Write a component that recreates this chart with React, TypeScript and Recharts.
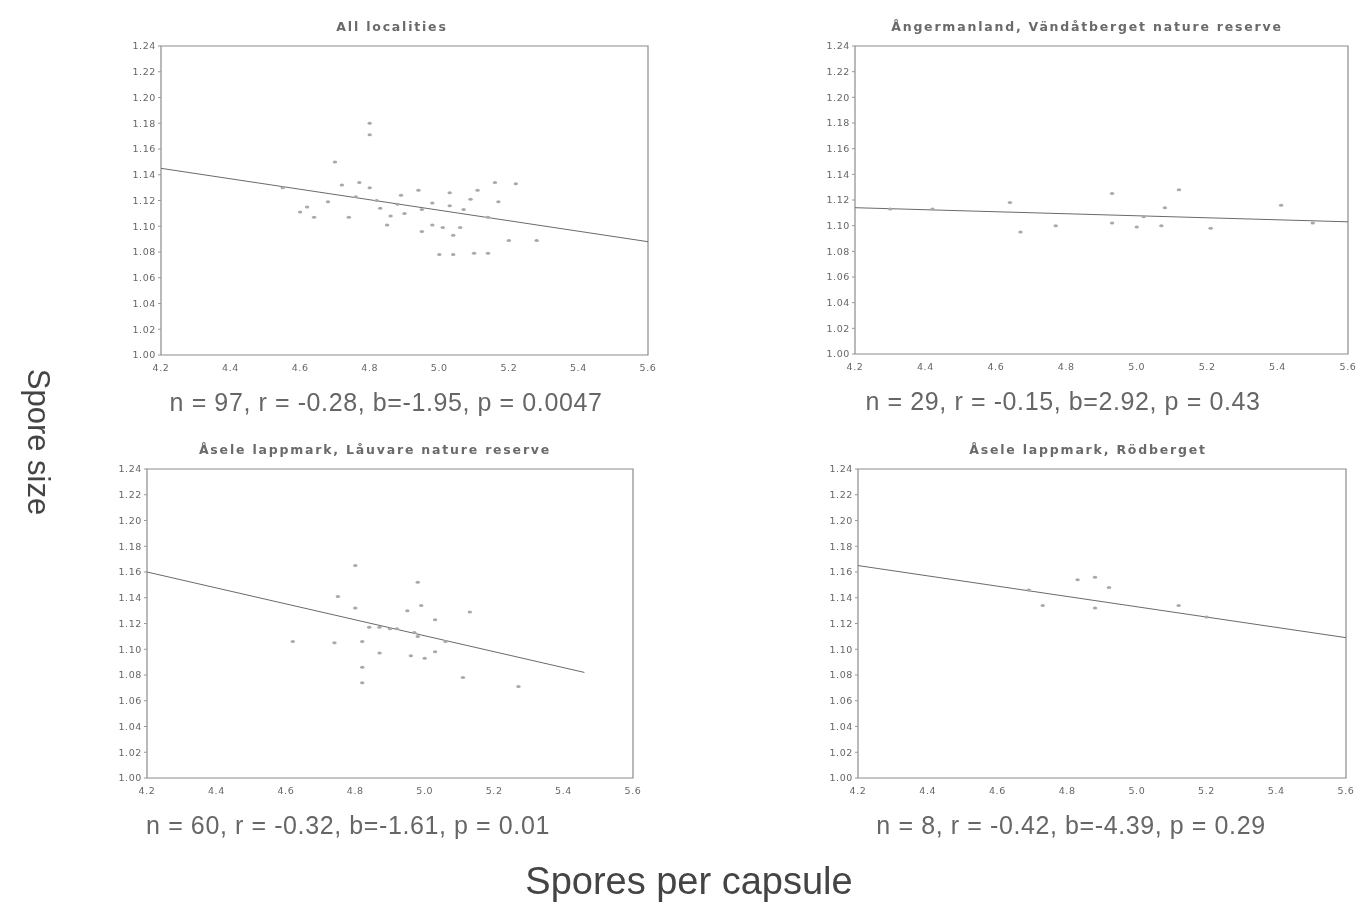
import React from 'react';
import { ScatterChart, Scatter, XAxis, YAxis, ReferenceLine, ReferenceArea } from 'recharts';

// spores per capsule (x) vs spore size (y), one list per locality
const allLocalities = [
  { x: 4.8, y: 1.171 }, { x: 4.8, y: 1.18 }, { x: 4.7, y: 1.15 }, { x: 4.77, y: 1.134 },
  { x: 4.8, y: 1.13 }, { x: 4.76, y: 1.123 }, { x: 4.72, y: 1.132 }, { x: 4.62, y: 1.115 },
  { x: 4.6, y: 1.111 }, { x: 4.64, y: 1.107 }, { x: 4.74, y: 1.107 }, { x: 4.82, y: 1.12 },
  { x: 4.83, y: 1.114 }, { x: 4.85, y: 1.101 }, { x: 4.88, y: 1.117 }, { x: 4.89, y: 1.124 },
  { x: 4.94, y: 1.128 }, { x: 4.95, y: 1.113 }, { x: 4.95, y: 1.096 }, { x: 4.98, y: 1.101 },
  { x: 5.01, y: 1.099 }, { x: 5.03, y: 1.126 }, { x: 5.03, y: 1.116 }, { x: 5.06, y: 1.099 },
  { x: 5.07, y: 1.113 }, { x: 5.04, y: 1.093 }, { x: 5.11, y: 1.128 }, { x: 5.17, y: 1.119 },
  { x: 5.16, y: 1.134 }, { x: 5.14, y: 1.107 }, { x: 5.2, y: 1.089 }, { x: 5.0, y: 1.078 },
  { x: 5.04, y: 1.078 }, { x: 5.1, y: 1.079 }, { x: 5.14, y: 1.079 }, { x: 4.55, y: 1.13 },
  { x: 5.22, y: 1.133 }, { x: 5.28, y: 1.089 }, { x: 4.9, y: 1.11 }, { x: 4.98, y: 1.118 },
  { x: 4.68, y: 1.119 }, { x: 4.86, y: 1.108 }, { x: 5.09, y: 1.121 },
];

const vandatberget = [
  { x: 4.42, y: 1.113 }, { x: 4.64, y: 1.118 }, { x: 4.67, y: 1.095 }, { x: 4.77, y: 1.1 },
  { x: 4.93, y: 1.102 }, { x: 5.0, y: 1.099 }, { x: 5.07, y: 1.1 }, { x: 5.12, y: 1.128 },
  { x: 5.08, y: 1.114 }, { x: 5.21, y: 1.098 }, { x: 5.41, y: 1.116 }, { x: 5.5, y: 1.102 },
  { x: 5.02, y: 1.107 }, { x: 4.93, y: 1.125 }, { x: 4.3, y: 1.113 },
];

const lauvare = [
  { x: 4.98, y: 1.152 }, { x: 4.75, y: 1.141 }, { x: 4.8, y: 1.132 }, { x: 4.84, y: 1.117 },
  { x: 4.87, y: 1.117 }, { x: 4.9, y: 1.116 }, { x: 4.92, y: 1.116 }, { x: 4.95, y: 1.13 },
  { x: 4.99, y: 1.134 }, { x: 5.03, y: 1.123 }, { x: 5.06, y: 1.106 }, { x: 5.13, y: 1.129 },
  { x: 4.96, y: 1.095 }, { x: 5.0, y: 1.093 }, { x: 5.03, y: 1.098 }, { x: 4.82, y: 1.106 },
  { x: 4.82, y: 1.074 }, { x: 5.11, y: 1.078 }, { x: 4.74, y: 1.105 }, { x: 4.87, y: 1.097 },
  { x: 4.82, y: 1.086 }, { x: 4.98, y: 1.11 }, { x: 4.97, y: 1.113 }, { x: 5.27, y: 1.071 },
  { x: 4.8, y: 1.165 }, { x: 4.62, y: 1.106 },
];

const rodberget = [
  { x: 4.88, y: 1.156 }, { x: 4.83, y: 1.154 }, { x: 4.73, y: 1.134 }, { x: 4.69, y: 1.146 },
  { x: 4.88, y: 1.132 }, { x: 5.12, y: 1.134 }, { x: 4.92, y: 1.148 }, { x: 5.2, y: 1.125 },
];

// fitted regression lines: [y at 4.2, end x, y at end x]
const fitAll = [1.145, 5.6, 1.088];
const fitVandat = [1.114, 5.6, 1.103];
const fitLauvare = [1.16, 5.46, 1.082];
const fitRodberget = [1.165, 5.6, 1.109];

const xTicks = [4.2, 4.4, 4.6, 4.8, 5.0, 5.2, 5.4, 5.6];
const yTicks = [1.0, 1.02, 1.04, 1.06, 1.08, 1.1, 1.12, 1.14, 1.16, 1.18, 1.2, 1.22, 1.24];

const font = '"Liberation Sans", Arial, sans-serif';
const tickStyle = { fontSize: 9.5, fill: '#666', fontFamily: '"DejaVu Sans", sans-serif', letterSpacing: 0.6 };

const Dot = (props: any) => {
  const { cx, cy } = props;
  return <ellipse cx={cx} cy={cy} rx={2.2} ry={1.5} fill="#a9a9a9" />;
};

interface PanelProps {
  title: string;
  titleX: number;
  stats: string;
  statsX: number;
  data: { x: number; y: number }[];
  fit: number[];
  left: number;
  top: number;
  right: number;
  bottom: number;
}

const Panel: React.FC<PanelProps> = ({ title, titleX, stats, statsX, data, fit, left, top, right, bottom }) => {
  const yW = 40;
  const xH = 20;
  const w = right - left + yW + 20;
  const h = bottom - top + xH + 10;
  return (
    <>
      <div style={{ position: 'absolute', left: titleX - 300, width: 600, top: top - 27, textAlign: 'center',
        fontFamily: '"DejaVu Sans", sans-serif', fontWeight: 'bold', fontSize: 12.5, letterSpacing: 1.8,
        color: '#6a6a6a' }}>{title}</div>
      <div style={{ position: 'absolute', left: left - 40, top: top - 10 }}>
        <ScatterChart width={w} height={h} margin={{ top: 10, right: 20, left: 0, bottom: 0 }}>
          <XAxis type="number" dataKey="x" domain={[4.2, 5.6]} ticks={xTicks} height={xH}
            tickFormatter={(v: number) => v.toFixed(1)} axisLine={false} tickLine={false}
            tick={tickStyle} tickMargin={3} />
          <YAxis type="number" dataKey="y" domain={[1.0, 1.24]} ticks={yTicks} width={yW}
            tickFormatter={(v: number) => v.toFixed(2)} axisLine={false} tickSize={3}
            stroke="#999" tick={tickStyle} />
          <ReferenceArea x1={4.2} x2={5.6} y1={1.0} y2={1.24} fill="none" stroke="#8c8c8c" strokeWidth={1.2} />
          <Scatter data={data} shape={<Dot />} isAnimationActive={false} />
          <ReferenceLine segment={[{ x: 4.2, y: fit[0] }, { x: fit[1], y: fit[2] }]}
            stroke="#6a6a6a" strokeWidth={1} />
        </ScatterChart>
      </div>
      <div style={{ position: 'absolute', left: statsX - 300, width: 600, top: bottom + 33,
        textAlign: 'center', fontFamily: font, fontSize: 25, letterSpacing: 0.6, color: '#666',
        whiteSpace: 'nowrap' }}>{stats}</div>
    </>
  );
};

export default function App() {
  return (
    <div style={{ position: 'absolute', left: 0, top: 0, width: 1361, height: 905, background: '#fff',
      overflow: 'hidden', filter: 'blur(0.5px)' }}>
      <Panel title="All localities" titleX={392} stats="n = 97, r = -0.28, b=-1.95, p = 0.0047" statsX={386}
        data={allLocalities} fit={fitAll} left={161} top={46} right={648} bottom={355} />
      <Panel title="Ångermanland, Vändåtberget nature reserve" titleX={1087}
        stats="n = 29, r = -0.15, b=2.92, p = 0.43" statsX={1063}
        data={vandatberget} fit={fitVandat} left={855} top={46} right={1348} bottom={354} />
      <Panel title="Åsele lappmark, Låuvare nature reserve" titleX={375}
        stats="n = 60, r = -0.32, b=-1.61, p = 0.01" statsX={348}
        data={lauvare} fit={fitLauvare} left={147} top={469} right={633} bottom={778} />
      <Panel title="Åsele lappmark, Rödberget" titleX={1088}
        stats="n = 8, r = -0.42, b=-4.39, p = 0.29" statsX={1071}
        data={rodberget} fit={fitRodberget} left={858} top={469} right={1346} bottom={778} />
      <div style={{ position: 'absolute', left: 38, top: 442, transform: 'translate(-50%, -50%) rotate(90deg)',
        fontFamily: font, fontSize: 31, color: '#444', whiteSpace: 'nowrap' }}>Spore size</div>
      <div style={{ position: 'absolute', left: 389, width: 600, top: 860, textAlign: 'center',
        fontFamily: font, fontSize: 38, color: '#444' }}>Spores per capsule</div>
    </div>
  );
}
